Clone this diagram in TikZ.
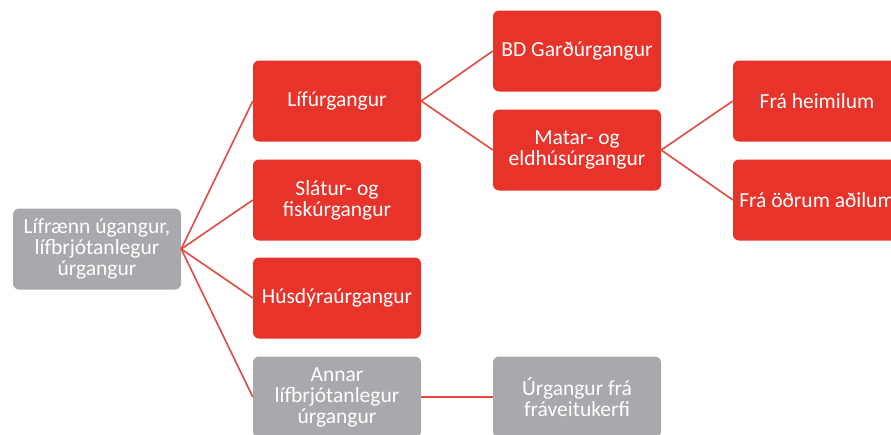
\documentclass[tikz,border=0pt]{standalone}
\usepackage{fontspec}
\setmainfont{Carlito}
\usepackage{tikz}
\usetikzlibrary{positioning}

\definecolor{wred}{HTML}{E8332A}
\definecolor{wgrey}{HTML}{A7A9AC}

\tikzset{
	box/.style={rounded corners=6pt, minimum width=168pt, minimum height=81pt,
		align=center, text=white, font=\fontsize{21.5}{21}\selectfont, inner sep=1pt},
	redbox/.style={box, fill=wred},
	greybox/.style={box, fill=wgrey},
	link/.style={draw=wred!90!white, line width=1.6pt}
}

\begin{document}
\begin{tikzpicture}[x=1pt, y=-1pt]
	\useasboundingbox (0,0) rectangle (891,434);
	\clip (0,0) rectangle (891,434);

	% root
	\node[greybox] (root) at (97, 249) {Lífrænn úgangur,\\lífbrjótanlegur\\úrgangur};

	% first level
	\node[redbox] (lif) at (337, 101) {Lífúrgangur};
	\node[redbox] (slat) at (337, 200) {Slátur- og\\fiskúrgangur};
	\node[redbox] (husd) at (337, 298) {Húsdýraúrgangur};
	\node[greybox] (annar) at (337, 397) {Annar\\lífbrjótanlegur\\úrgangur};

	% second level
	\node[redbox] (gard) at (577, 51) {BD Garðúrgangur};
	\node[redbox] (matar) at (577, 150) {Matar- og\\eldhúsúrgangur};
	\node[greybox] (frav) at (577, 397) {Úrgangur frá\\fráveitukerfi};

	% third level
	\node[redbox] (heim) at (817, 101) {Frá heimilum};
	\node[redbox] (odrum) at (817, 200) {Frá öðrum aðilum};

	\foreach \n in {lif, slat, husd, annar} {
		\draw[link] (root.east) -- (\n.west);
	};
	\draw[link] (lif.east) -- (gard.west);
	\draw[link] (lif.east) -- (matar.west);
	\draw[link] (matar.east) -- (heim.west);
	\draw[link] (matar.east) -- (odrum.west);
	\draw[link] (annar.east) -- (frav.west);
\end{tikzpicture}
\end{document}
